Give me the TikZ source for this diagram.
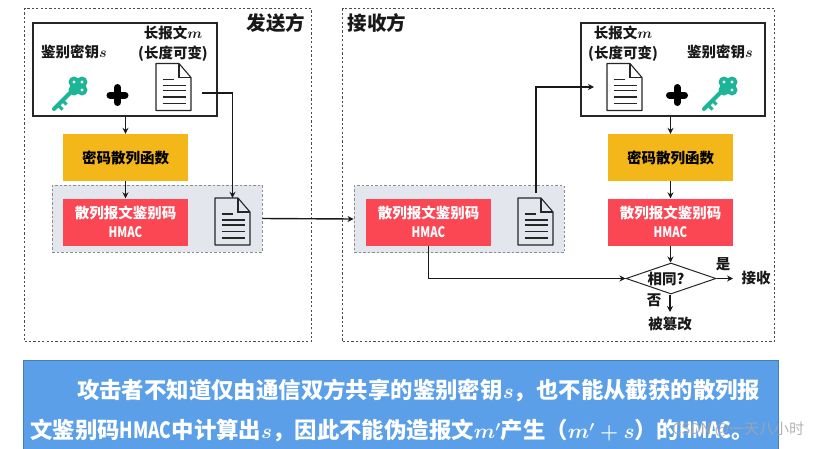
\documentclass[tikz,border=0pt]{standalone}
\usepackage{amsmath,amssymb}
\usepackage{fontspec}
\setmainfont{Noto Sans CJK SC}
\usetikzlibrary{calc}
\usetikzlibrary{shapes.geometric}
\usetikzlibrary{arrows.meta}

\definecolor{keygreen}{HTML}{1DB597}
\definecolor{hashyellow}{HTML}{F4B71A}
\definecolor{macred}{HTML}{FB4654}
\definecolor{msggray}{HTML}{E4E6EE}
\definecolor{noteblue}{HTML}{5A9FE8}
\newcommand*\hmacword{\scalebox{0.78}[1]{HMAC}}

\tikzset{
    x=1pt, y=-1pt,
    flow/.style={draw=black!90, line width=1.4pt, -{Stealth[length=6pt,width=6pt]}},
    sidebox/.style={draw=black!70, dash pattern=on 2.2pt off 2.2pt, line width=1.1pt, anchor=north west, minimum width=#1, minimum height=333pt, inner sep=0pt},
    whitebox/.style={draw=black!85, fill=white, line width=1.1pt, minimum width=184pt, minimum height=93pt, inner sep=0pt},
    msgbox/.style={draw=black!45, dash pattern=on 2.5pt off 2pt, fill=msggray, line width=0.9pt, minimum width=210pt, minimum height=67pt, inner sep=0pt},
    hashbox/.style={fill=hashyellow, minimum width=125pt, minimum height=47pt, inner sep=0pt, font=\fontsize{14.5}{18}\selectfont\bfseries},
    macbox/.style={fill=macred, text=white, minimum width=125pt, minimum height=47pt, inner sep=0pt, align=center, font=\fontsize{14.5}{19}\selectfont\bfseries},
    lbl/.style={inner sep=0pt, align=center, text=black!90, font=\fontsize{14.5}{20}\selectfont\bfseries},
    sidelbl/.style={inner sep=0pt, text=black!90, font=\fontsize{19.5}{22}\selectfont\bfseries},
    docslot/.style={minimum width=35pt, minimum height=47pt, inner sep=0pt},
    docicon/.pic={
        \draw[black!85, line width=1.1pt, fill=#1, line join=round] (-17.5,-23.5) -- (5.5,-23.5) -- (17.5,-9.5) -- (17.5,23.5) -- (-17.5,23.5) -- cycle;
        \draw[black!85, line width=1.1pt] (5.5,-23.5) -- (5.5,-9.5) -- (17.5,-9.5);
        \draw[black!85, line width=1.3pt] (-11,-7.5) -- (0,-7.5);
        \foreach \liney in {-1.5, 3.5, 10, 16.5}
            \draw[black!85, line width=1.3pt] (-11,\liney) -- (12,\liney);
    },
    keyicon/.pic={
        \draw[keygreen, line width=4pt, line cap=round] (-15,15) -- (3,-3);
        \draw[keygreen, line width=3pt] (-11,11) -- (-6.5,15.5);
        \draw[keygreen, line width=3pt] (-6.5,6.5) -- (-2.5,10.5);
        \foreach \lobex/\lobey in {5/-12, 13/-12, 5/-4, 13/-4}
            \fill[keygreen] (\lobex,\lobey) circle (5.5);
        \fill[keygreen] (9,-8) circle (4);
        \foreach \holex/\holey in {5/-12, 13/-12, 13/-4}
            \fill[white] (\holex,\holey) circle (1.6);
    },
    plussign/.pic={
        \draw[black, line width=7pt, line cap=round] (-7.5,0) -- (7.5,0);
        \draw[black, line width=7pt, line cap=round] (0,-7.5) -- (0,7.5);
    }
}

\begin{document}
\begin{tikzpicture}
    \useasboundingbox (0,0) rectangle (815,448);

    % sender side
    \node[sidebox=287pt] (sender) at (24,8) {};
    \node[sidelbl] (senderlbl) at (276,23) {发送方};
    \node[whitebox] (senderin) at (125,69.5) {};
    \node[lbl] (senderkeylbl) at (74,52) {鉴别密钥$\boldsymbol{s}$};
    \node[lbl] (sendermsglbl) at (173,44) {长报文$\boldsymbol{m}$\\(长度可变)};
    \pic at (69,94) {keyicon};
    \pic at (117.5,95) {plussign};
    \node[docslot] (senderdoc) at (173.5,87) {};
    \pic at (senderdoc) {docicon=white};
    \node[hashbox] (senderhash) at (125.5,157.5) {密码散列函数};
    \node[msgbox] (sendermsg) at (157,218.5) {};
    \node[macbox] (sendermac) at (125.5,222) {散列报文鉴别码\\\hmacword};
    \node[docslot] (senderout) at (232.5,221.5) {};
    \pic at (senderout) {docicon=msggray};
    \coordinate (senderdocend) at (202,93);

    % receiver side
    \node[sidebox=432pt] (receiver) at (342,8) {};
    \node[sidelbl] (receiverlbl) at (377,23) {接收方};
    \node[whitebox] (receiverin) at (673,69.5) {};
    \node[lbl] (receivermsglbl) at (623,44) {长报文$\boldsymbol{m}$\\(长度可变)};
    \node[lbl] (receiverkeylbl) at (720,52) {鉴别密钥$\boldsymbol{s}$};
    \node[docslot] (receiverdoc) at (624.5,87) {};
    \pic at (receiverdoc) {docicon=white};
    \pic at (677,95) {plussign};
    \pic at (719,94) {keyicon};
    \node[hashbox] (receiverhash) at (670.5,157.5) {密码散列函数};
    \node[macbox] (receivermac) at (670.5,222) {散列报文鉴别码\\\hmacword};
    \node[msgbox] (receivermsg) at (459,219) {};
    \node[macbox] (gotmac) at (428.5,222) {散列报文鉴别码\\\hmacword};
    \node[docslot] (gotdoc) at (535.5,221.5) {};
    \pic at (gotdoc) {docicon=msggray};
    \coordinate (gotdocend) at (536,193);
    \coordinate (receiverdocend) at (594,87);

    \node[diamond, draw=black!85, line width=1pt, minimum width=90pt, minimum height=31pt, aspect=2.9, inner sep=0pt] (same) at (671,278.5) {};
    \node[lbl] (samelbl) at (666,279) {相同?};
    \node[lbl] (accept) at (756,278) {接收};
    \node[lbl] (tampered) at (670,324) {被篡改};
    \node[lbl] (yeslbl) at (723,264) {是};
    \node[lbl] (nolbl) at (654,300) {否};

    % connectors
    \draw[flow] (senderin.south -| senderhash.north) -- (senderhash.north);
    \draw[flow] (senderhash.south) -- (sendermac.north);
    \draw[flow] (senderdocend) -- (senderout.north |- senderdocend) -- (senderout.north);
    \draw[flow] (sendermsg.east) -- (receivermsg.west);
    \draw[flow] (gotdocend) -- (gotdocend |- receiverdocend) -- (receiverdocend);
    \draw[flow] (receiverin.south -| receiverhash.north) -- (receiverhash.north);
    \draw[flow] (receiverhash.south) -- (receivermac.north);
    \draw[flow] (receivermac.south) -- (same.north -| receivermac.south);
    \draw[flow] (gotmac.south) -- (gotmac.south |- same.west) -- (same.west);
    \draw[flow] (same.east) -- (733,278.5);
    \draw[flow] (same.south -| tampered.north) -- (670,312);

    % note at the bottom
    \node[fill=noteblue, draw=noteblue!80!black, line width=0.5pt, anchor=north west, minimum width=755pt, minimum height=90pt, inner sep=0pt] (note) at (23,360) {};
    \node[inner sep=0pt, anchor=north west, align=left, text=white, font=\fontsize{22.4}{40}\selectfont\bfseries] (notetext) at (30,379)
        {\hspace*{47pt}攻击者不知道仅由通信双方共享的鉴别密钥$\boldsymbol{s}$，也不能从截获的散列报\\文鉴别码\hmacword{}中计算出$\boldsymbol{s}$，因此不能伪造报文$\boldsymbol{m'}$产生（$\boldsymbol{m'+s}$）的\hmacword{}。};
    \node[inner sep=0pt, anchor=west, text=black!35, opacity=0.85, font=\fontsize{15}{18}\selectfont] (mark) at (672,430) {CSDN @一天八小时};
\end{tikzpicture}
\end{document}
